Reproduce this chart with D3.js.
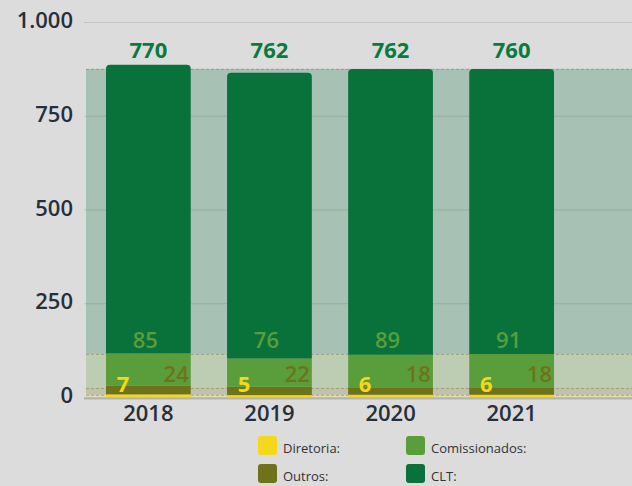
<!DOCTYPE html>
<html>
<head>
<meta charset="utf-8">
<script src="https://cdn.jsdelivr.net/npm/d3@7"></script>
<style>
html, body { margin: 0; padding: 0; background: #dcdcdc; }
svg { display: block; font-family: "Open Sans", sans-serif; }
</style>
</head>
<body>
<svg id="chart"></svg>
<script>
var years = ["2018", "2019", "2020", "2021"];
var diretoria = [7, 5, 6, 6];
var outros = [24, 22, 18, 18];
var comissionados = [85, 76, 89, 91];
var clt = [770, 762, 762, 760];
var yTicks = [0, 250, 500, 750, 1000];
var legendNames = ["Diretoria:", "Outros:", "Comissionados:", "CLT:"];

var svgWidth = 632;
var svgHeight = 486;

var plotLeft = 86;
var plotRight = 632;
var plotTop = 22;
var plotBottom = 397;

var keys = ["diretoria", "outros", "comissionados", "clt"];
var colors = {
  diretoria: "#f5d81a",
  outros: "#6e7319",
  comissionados: "#5a9e3c",
  clt: "#08723a"
};

var rows = years.map(function(yr, i) {
  return { year: yr, diretoria: diretoria[i], outros: outros[i], comissionados: comissionados[i], clt: clt[i] };
});
var stacked = d3.stack().keys(keys)(rows);

var ptBR = d3.formatLocale({ decimal: ",", thousands: ".", grouping: [3], currency: ["R$", ""] });
var fmt = ptBR.format(",d");

var xScale = d3.scaleBand()
  .domain(years)
  .range([plotLeft, 574])
  .paddingInner(0.3)
  .paddingOuter(0.165);

var yScale = d3.scaleLinear()
  .domain([0, 1000])
  .range([plotBottom, plotTop]);

var svg = d3.select('#chart')
  .attr('width', svgWidth)
  .attr('height', svgHeight);

// background bands, from the last year's stack
var bands = svg.append('g').attr('class', 'bands');
stacked.forEach(function(s) {
  var last = s[s.length - 1];
  bands.append('rect')
    .attr('x', plotLeft)
    .attr('y', yScale(last[1]))
    .attr('width', plotRight - plotLeft)
    .attr('height', yScale(last[0]) - yScale(last[1]))
    .attr('fill', colors[s.key])
    .attr('fill-opacity', 0.25);
  bands.append('line')
    .attr('x1', plotLeft).attr('x2', plotRight)
    .attr('y1', yScale(last[1]) + 0.5).attr('y2', yScale(last[1]) + 0.5)
    .attr('stroke', '#8a8a60')
    .attr('stroke-opacity', 0.6)
    .attr('stroke-dasharray', '3,2');
});

// y axis + grid
var yAxis = svg.append('g')
  .attr('class', 'yAxis')
  .attr('transform', 'translate(' + plotLeft + ',0)')
  .call(d3.axisLeft(yScale).tickValues(yTicks).tickFormat(fmt).tickSize(-(plotRight - plotLeft + 2)).tickPadding(13));
yAxis.select('.domain').remove();
yAxis.selectAll('.tick line')
  .attr('stroke', '#000')
  .attr('stroke-opacity', 0.1)
  .attr('transform', 'translate(-2,0)');
yAxis.selectAll('.tick text')
  .attr('fill', '#262f3a')
  .attr('font-size', '22px')
  .attr('font-weight', 600)
  .attr('font-family', '"Open Sans", sans-serif')
  .attr('dy', '0.25em');

// bars
function topRounded(x, y, w, h, r) {
  return 'M' + x + ',' + (y + h) + 'V' + (y + r) + 'Q' + x + ',' + y + ' ' + (x + r) + ',' + y +
    'H' + (x + w - r) + 'Q' + (x + w) + ',' + y + ' ' + (x + w) + ',' + (y + r) + 'V' + (y + h) + 'Z';
}

var bars = svg.append('g').attr('class', 'bars');
stacked.forEach(function(s) {
  var g = bars.append('g').attr('fill', colors[s.key]);
  if (s.key === 'clt') {
    g.selectAll('path')
      .data(s)
      .enter()
      .append('path')
      .attr('d', function(d) {
        return topRounded(xScale(d.data.year), yScale(d[1]), xScale.bandwidth(), yScale(d[0]) - yScale(d[1]), 4);
      });
  } else {
    g.selectAll('rect')
      .data(s)
      .enter()
      .append('rect')
      .attr('x', function(d) { return xScale(d.data.year); })
      .attr('y', function(d) { return yScale(d[1]); })
      .attr('width', xScale.bandwidth())
      .attr('height', function(d) { return yScale(d[0]) - yScale(d[1]); });
  }
});

// baseline
svg.append('line')
  .attr('x1', plotLeft - 2).attr('x2', plotRight)
  .attr('y1', yScale(0) + 1.5).attr('y2', yScale(0) + 1.5)
  .attr('stroke', '#b3b3b3')
  .attr('stroke-width', 2);

// x axis labels
var xAxis = svg.append('g')
  .attr('class', 'xAxis')
  .attr('transform', 'translate(0,' + plotBottom + ')')
  .call(d3.axisBottom(xScale).tickSize(0).tickPadding(8));
xAxis.select('.domain').remove();
xAxis.selectAll('.tick text')
  .attr('fill', '#262f3a')
  .attr('font-size', '22px')
  .attr('font-weight', 600)
  .attr('font-family', '"Open Sans", sans-serif');

// value labels
var lastStack = {};
stacked.forEach(function(s) { lastStack[s.key] = s[s.length - 1]; });
var labels = svg.append('g').attr('class', 'labels').attr('font-size', '22px');

labels.selectAll('.cltLabel')
  .data(rows)
  .enter()
  .append('text')
  .attr('x', function(d) { return xScale(d.year) + xScale.bandwidth() / 2; })
  .attr('y', 58)
  .attr('text-anchor', 'middle')
  .attr('font-weight', 700)
  .attr('fill', '#0b7a3e')
  .text(function(d) { return fmt(d.clt); });

labels.selectAll('.comLabel')
  .data(rows)
  .enter()
  .append('text')
  .attr('x', function(d) { return xScale(d.year) + xScale.bandwidth() / 2 - 3; })
  .attr('y', yScale(lastStack.comissionados[1]) - 6)
  .attr('text-anchor', 'middle')
  .attr('font-weight', 600)
  .attr('fill', colors.comissionados)
  .text(function(d) { return d.comissionados; });

labels.selectAll('.outLabel')
  .data(rows)
  .enter()
  .append('text')
  .attr('x', function(d) { return xScale(d.year) + xScale.bandwidth() - 2; })
  .attr('y', yScale(lastStack.outros[1]) - 6)
  .attr('text-anchor', 'end')
  .attr('font-weight', 600)
  .attr('fill', colors.outros)
  .text(function(d) { return d.outros; });

labels.selectAll('.dirLabel')
  .data(rows)
  .enter()
  .append('text')
  .attr('x', function(d) { return xScale(d.year) + 17; })
  .attr('y', yScale(0) - 5)
  .attr('text-anchor', 'middle')
  .attr('font-weight', 700)
  .attr('fill', colors.diretoria)
  .text(function(d) { return d.diretoria; });

// legend
var legend = svg.append('g').attr('class', 'legend').attr('transform', 'translate(258,436)');
keys.forEach(function(k, i) {
  var col = Math.floor(i / 2);
  var row = i % 2;
  var item = legend.append('g').attr('transform', 'translate(' + (col * 148) + ',' + (row * 28) + ')');
  item.append('rect')
    .attr('width', 19)
    .attr('height', 19)
    .attr('rx', 3)
    .attr('ry', 3)
    .attr('fill', colors[k]);
  item.append('text')
    .attr('x', 25)
    .attr('y', 17)
    .attr('font-size', '13px')
    .attr('fill', '#333')
    .text(legendNames[i]);
});
</script>
</body>
</html>
